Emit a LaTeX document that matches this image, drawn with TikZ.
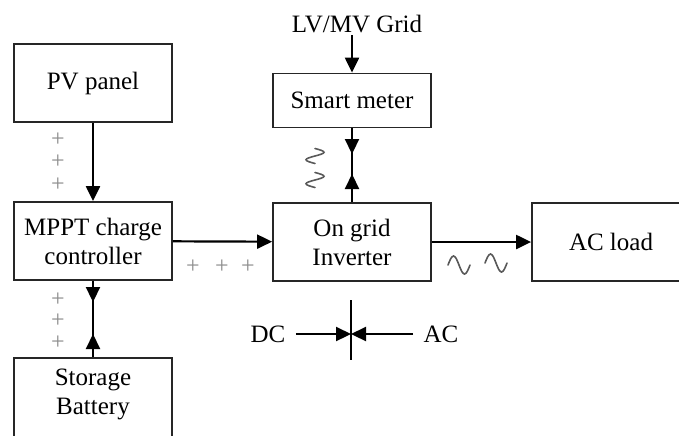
\documentclass[tikz,border=0pt]{standalone}
\usepackage{fontspec}
\setmainfont{Liberation Serif}
\usetikzlibrary{arrows.meta, positioning, calc}

\begin{document}
\begin{tikzpicture}[
    x=0.5pt, y=-0.5pt,
    block/.style={
      rectangle, draw=black!85, line width=0.9pt,
      minimum width=79pt, minimum height=39pt,
      font=\fontsize{12.5}{14.5}\selectfont, align=center, inner sep=2pt
    },
    label/.style={font=\fontsize{12.5}{14.5}\selectfont, inner sep=1pt},
    plus/.style={font=\fontsize{12}{12}\selectfont, text=black!45, inner sep=0pt,
      text height=1.4ex, text depth=0pt},
    arrow/.style={-{Triangle[length=7.5pt, width=7pt]}, line width=1.1pt},
    link/.style={line width=1.1pt},
    acwave/.pic={
      \draw[black!65, line width=0.8pt, line cap=round]
        (-11,0) sin (-5.5,-9) cos (0,0) sin (5.5,9) cos (11,0);
    },
    acwave short/.pic={
      \draw[black!65, line width=0.8pt, line cap=round]
        (-7.5,0) sin (-3.75,-9) cos (0,0) sin (3.75,9) cos (7.5,0);
    },
  ]
    \useasboundingbox (0,0) rectangle (679,435);
    \clip (0,0) rectangle (679,435);

    % blocks
    \node[block] (pv) at (93,83) {PV panel};
    \node[block] (mppt) at (93,241) {MPPT charge\\controller};
    \node[block, minimum height=46pt, text depth=12pt] (batt) at (93,404) {Storage\\Battery};
    \node[block, minimum height=27pt] (meter) at (352,100.5) {Smart meter};
    \node[block] (inv) at (352,242) {On grid\\Inverter};
    \node[block] (load) at (611,242) {AC load};
    \node[label] (grid) at (357,24) {LV/MV Grid};

    % connectors
    \draw[arrow] (pv) -- (mppt);
    \draw[arrow] (mppt) -- (inv);
    \draw[arrow] (inv) -- (load);
    \draw[arrow] (grid.south -| meter.north) -- (meter.north);

    % two-way links with arrow heads midway
    \coordinate (mpptdown) at (93,302);
    \coordinate (battup) at (93,334);
    \draw[link] (mppt.south) -- (batt.north);
    \draw[arrow] (mppt.south) -- (mpptdown);
    \draw[arrow] (batt.north) -- (battup);

    \coordinate (meterdown) at (352,154);
    \coordinate (invup) at (352,174);
    \draw[link] (meter.south) -- (inv.north);
    \draw[arrow] (meter.south) -- (meterdown);
    \draw[arrow] (inv.north) -- (invup);

    % DC / AC boundary
    \coordinate (bartop) at (351,300);
    \coordinate (barbot) at (351,360);
    \draw[line width=0.9pt] (bartop) -- (barbot);
    \node[label] (dc) at (268,334) {DC};
    \node[label] (ac) at (441,334) {AC};
    \draw[arrow] (dc.east) ++(8,0) coordinate (dcstart) -- (dcstart -| bartop);
    \draw[arrow] (ac.west) ++(-8,0) coordinate (acstart) -- (acstart -| bartop);

    % dc marks
    \foreach \p in {140,162,185,300,321,343}
      \node[plus] (plus\p) at (58,\p) {+};
    \foreach \p in {193,222,248}
      \node[plus] (hplus\p) at (\p,267) {+};

    % ac marks
    \pic at (459,265) {acwave};
    \pic at (496,263) {acwave};
    \pic[rotate=90] at (315,156) {acwave short};
    \pic[rotate=90] at (315,180) {acwave short};
  \end{tikzpicture}
\end{document}
